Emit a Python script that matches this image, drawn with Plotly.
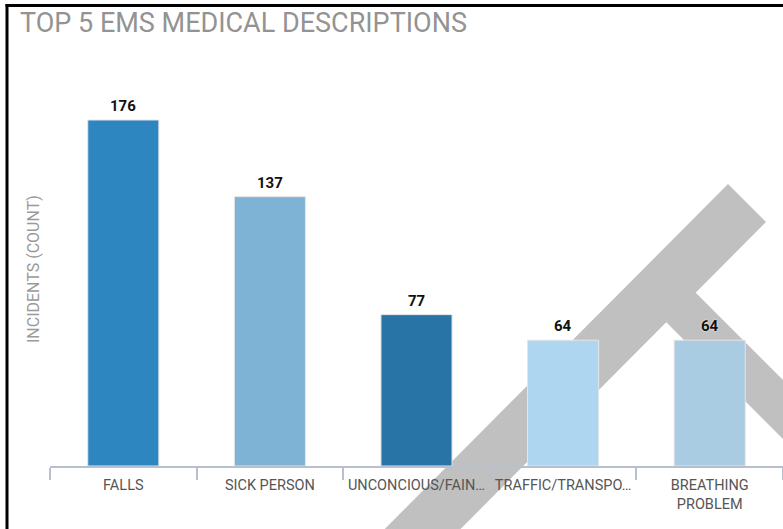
import plotly.graph_objects as go

categories = ["FALLS", "SICK PERSON", "UNCONCIOUS/FAINTING", "TRAFFIC/TRANSPORTATION", "BREATHING PROBLEM"]
tick_labels = ["FALLS", "SICK PERSON", "UNCONCIOUS/FAIN…", "TRAFFIC/TRANSPO…", "BREATHING<br>PROBLEM"]
counts = [176, 137, 77, 64, 64]
bar_colors = ["#2E86C1", "#7FB3D5", "#2874A6", "#AED6F1", "#A9CCE3"]

W, H = 783, 529
L, R, T, B = 50, 0, 60, 63
PW, PH = W - L - R, H - T - B
YMAX = 176 * PH / 346.0

def px(x):
    return (x - L) / PW

def py(y):
    return (H - B - y) / PH

fig = go.Figure()
fig.add_trace(go.Bar(
    x=categories, y=counts,
    marker=dict(color=bar_colors, line=dict(color="#e6e6e6", width=1)),
    cliponaxis=False, hoverinfo="skip",
))

value_labels = [
    dict(x=c, y=v, xref="x", yref="y", text=str(v), showarrow=False,
         xanchor="center", yanchor="bottom", yshift=3,
         font=dict(family="Roboto", size=15, color="#111", weight="bold", shadow="0px 0px 2px white"))
    for c, v in zip(categories, counts)
]

grey = "#c0c0c0"
def poly(pts):
    return "M " + " L ".join(f"{px(a)},{py(b)}" for a, b in pts) + " Z"

shapes = [
    dict(type="path", xref="paper", yref="paper", layer="below", line=dict(width=0),
         fillcolor=grey, path=poly([(728, 184), (766, 222), (370, 620), (332, 582)])),
    dict(type="path", xref="paper", yref="paper", layer="below", line=dict(width=0),
         fillcolor=grey, path=poly([(695, 292), (895, 492), (866, 522), (666, 322)])),
    dict(type="line", xref="paper", yref="paper", x0=px(7), x1=px(7), y0=py(4), y1=py(540),
         line=dict(color="black", width=3), layer="above"),
    dict(type="line", xref="paper", yref="paper", x0=px(5.5), x1=px(800), y0=py(5.5), y1=py(5.5),
         line=dict(color="black", width=3), layer="above"),
]

fig.update_layout(
    width=W, height=H,
    margin=dict(l=L, r=R, t=T, b=B, autoexpand=False),
    paper_bgcolor="white", plot_bgcolor="white",
    font=dict(family="Roboto", color="#555"),
    bargap=0.515,
    showlegend=False,
    title=dict(text="TOP 5 EMS MEDICAL DESCRIPTIONS", font=dict(family="Roboto", size=27, color="#939393"),
               x=20 / W, xanchor="left", xref="container", y=1 - 23 / H, yanchor="middle", yref="container"),
    xaxis=dict(type="category", tickmode="array", tickvals=categories, ticktext=tick_labels,
               showline=True, linecolor="#b8c0ce", linewidth=2,
               ticks="outside", tickson="boundaries", ticklen=12, tickcolor="#b8c0ce", tickwidth=2,
               ticklabelstandoff=5, tickangle=0, automargin=False,
               tickfont=dict(family="Roboto", size=14.5, color="#555"), showgrid=False,
               range=[-0.5, 4.5]),
    yaxis=dict(range=[0, YMAX], showticklabels=False, showgrid=False, zeroline=False, showline=False,
               ticks="", automargin=False),
    shapes=shapes,
    annotations=value_labels + [dict(text="INCIDENTS (COUNT)", textangle=-90, xref="paper", yref="paper",
                      x=px(33), y=py(269), showarrow=False, xanchor="center", yanchor="middle",
                      font=dict(family="Roboto", size=16, color="#9a9a9a"))],
)

fig.write_html("out.html", config={"displayModeBar": False},
               post_script="document.body.style.margin='0';document.body.style.overflow='hidden';")
